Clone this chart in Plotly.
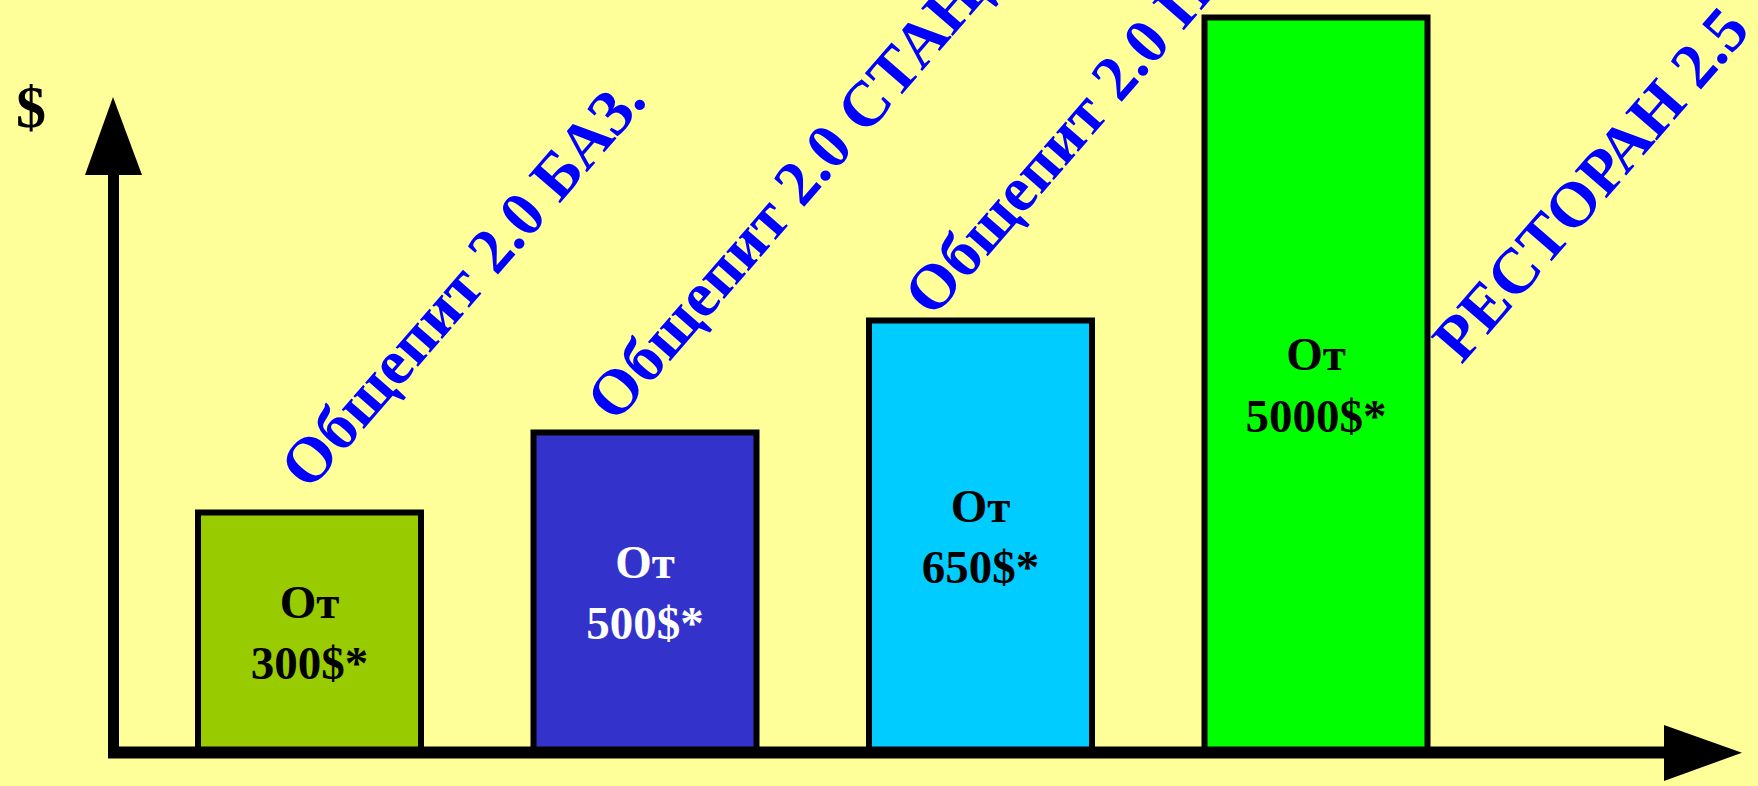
import plotly.graph_objects as go

# ---- data ----
categories = ["Общепит 2.0 БАЗ.", "Общепит 2.0 СТАНД.", "Общепит 2.0 ПРОФ.", "РЕСТОРАН 2.5"]
bar_heights = [240, 320, 432, 735]          # relative bar heights
price_labels = ["От<br>300$*", "От<br>500$*", "От<br>650$*", "От<br>5000$*"]
bar_colors = ["#99CC00", "#3333CC", "#00CCFF", "#00FF00"]
text_colors = ["#000000", "#FFFFFF", "#000000", "#000000"]

W, H = 1758, 786
BG = "#FFFF99"
SERIF = "Liberation Serif"

# category axis geometry (pixels)
CAT0 = 309.5
STEP = 335.5

fig = go.Figure()
fig.add_trace(go.Bar(
    x=categories,
    y=bar_heights,
    text=price_labels,
    textposition="inside",
    insidetextanchor="middle",
    textangle=0,
    textfont=dict(family=SERIF, size=47, color=text_colors, weight="bold"),
    marker=dict(color=bar_colors, line=dict(color="#000000", width=6)),
    width=223 / STEP,
    hoverinfo="skip",
))

# rotated category labels (positioned relative to each bar)
label_shifts = [(-46, 8.5), (-75, -3.5), (-93, -10.5), (100, -359.5)]
annotations = []
for cat, h, (dx, dy) in zip(categories, bar_heights, label_shifts):
    annotations.append(dict(
        x=cat, y=h, xref="x", yref="y",
        xshift=dx, yshift=dy,
        text=cat, showarrow=False, textangle=-49,
        xanchor="left", yanchor="bottom",
        font=dict(family=SERIF, size=64, color="#0000FF", weight="bold"),
    ))

# "$" axis label
annotations.append(dict(
    x=31 / W, y=1 - 107 / H, xref="paper", yref="paper",
    text="$", showarrow=False, xanchor="center", yanchor="middle",
    font=dict(family=SERIF, size=60, color="#000000", weight="bold"),
))

def px(x):
    return x / W

def py(y):
    return 1 - y / H

shapes = [
    # y axis line
    dict(type="line", xref="paper", yref="paper",
         x0=px(113.5), x1=px(113.5), y0=py(758), y1=py(170),
         line=dict(color="#000000", width=11)),
    # x axis line
    dict(type="line", xref="paper", yref="paper",
         x0=px(108), x1=px(1670), y0=py(752.5), y1=py(752.5),
         line=dict(color="#000000", width=12)),
    # y arrow head
    dict(type="path", xref="paper", yref="paper",
         path=f"M {px(113)} {py(97)} L {px(85)} {py(175)} L {px(142)} {py(175)} Z",
         fillcolor="#000000", line=dict(width=0)),
    # x arrow head
    dict(type="path", xref="paper", yref="paper",
         path=f"M {px(1742)} {py(752.7)} L {px(1664)} {py(725)} L {px(1664)} {py(781)} Z",
         fillcolor="#000000", line=dict(width=0)),
]

fig.update_layout(
    width=W, height=H,
    margin=dict(l=0, r=0, t=0, b=0),
    paper_bgcolor=BG, plot_bgcolor=BG,
    showlegend=False,
    xaxis=dict(type="category", range=[-CAT0 / STEP, (W - CAT0) / STEP], visible=False),
    yaxis=dict(range=[-33.5, 752.5], visible=False),
    annotations=annotations,
    shapes=shapes,
)

fig.write_html("out.html")
